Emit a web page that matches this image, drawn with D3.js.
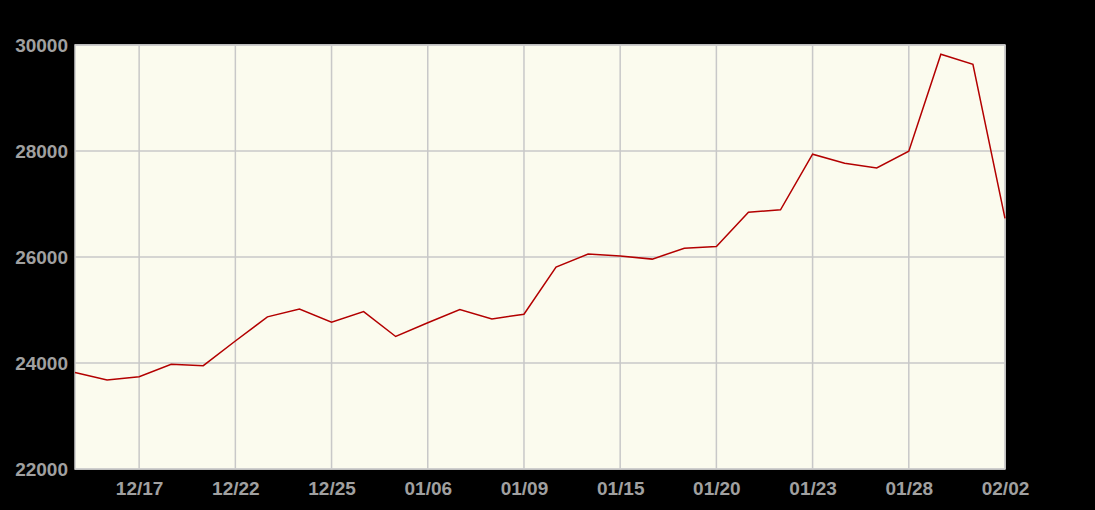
<!DOCTYPE html>
<html>
<head>
<meta charset="utf-8">
<script src="https://cdn.jsdelivr.net/npm/d3@7"></script>
<style>
    body { margin: 0; background: #000; }
    svg { display: block; }
</style>
</head>
<body>
<svg id="chart" width="1095" height="510"></svg>
<script>
// trading dates, only every third one is labelled on the axis
const dates = [
    "12/15", "12/16", "12/17", "12/18", "12/19", "12/22", "12/23", "12/24", "12/25", "12/26",
    "12/29", "01/06", "01/07", "01/08", "01/09", "01/12", "01/13", "01/15", "01/16", "01/19",
    "01/20", "01/21", "01/22", "01/23", "01/26", "01/27", "01/28", "01/29", "01/30", "02/02"
]
const values = [
    23820, 23680, 23740, 23975, 23950, 24415, 24870, 25020, 24770, 24970,
    24500, 24760, 25010, 24830, 24920, 25810, 26055, 26020, 25960, 26165,
    26200, 26845, 26890, 27940, 27770, 27680, 27995, 29825, 29635, 26730
]
const yTicks = [22000, 24000, 26000, 28000, 30000]
const xTickLabels = ["12/17", "12/22", "12/25", "01/06", "01/09", "01/15", "01/20", "01/23", "01/28", "02/02"]

const plotLeft = 75, plotRight = 1005, plotTop = 45, plotBottom = 469
const svg = d3.select("#chart")

const x = d3.scalePoint().domain(dates).range([plotLeft, plotRight])
const y = d3.scaleLinear().domain([22000, 30000]).range([plotBottom, plotTop])

svg.append("rect")
    .attr("x", plotLeft)
    .attr("y", plotTop)
    .attr("width", plotRight - plotLeft)
    .attr("height", plotBottom - plotTop)
    .attr("fill", "#fbfbee")

// grid
const grid = svg.append("g").attr("stroke", "#c8c8c8").attr("stroke-width", 1.5)
grid.selectAll(".hgrid")
    .data(yTicks)
    .enter()
    .append("line")
    .attr("x1", plotLeft)
    .attr("x2", plotRight)
    .attr("y1", d => y(d))
    .attr("y2", d => y(d))
grid.selectAll(".vgrid")
    .data(xTickLabels)
    .enter()
    .append("line")
    .attr("x1", d => x(d))
    .attr("x2", d => x(d))
    .attr("y1", plotTop)
    .attr("y2", plotBottom)

svg.append("rect")
    .attr("x", plotLeft)
    .attr("y", plotTop)
    .attr("width", plotRight - plotLeft)
    .attr("height", plotBottom - plotTop)
    .attr("fill", "none")
    .attr("stroke", "#cccccc")
    .attr("stroke-width", 1.5)

const line = d3.line()
    .x((d, i) => x(dates[i]))
    .y(d => y(d))

svg.append("path")
    .datum(values)
    .attr("d", line)
    .attr("fill", "none")
    .attr("stroke", "#b30000")
    .attr("stroke-width", 1.5)

// axes
const yAxis = svg.append("g")
    .attr("transform", `translate(${plotLeft},0)`)
    .call(d3.axisLeft(y).tickValues(yTicks).tickSize(0).tickPadding(7).tickFormat(d3.format("d")))
const xAxis = svg.append("g")
    .attr("transform", `translate(0,${plotBottom})`)
    .call(d3.axisBottom(x).tickValues(xTickLabels).tickSize(0).tickPadding(13))

for (const ax of [xAxis, yAxis]) {
    ax.select(".domain").remove()
    ax.selectAll("text")
        .attr("fill", "#a0a0a0")
        .style("font-family", "'Liberation Sans', Arial, sans-serif")
        .style("font-size", "19px")
        .style("font-weight", "bold")
}
</script>
</body>
</html>
